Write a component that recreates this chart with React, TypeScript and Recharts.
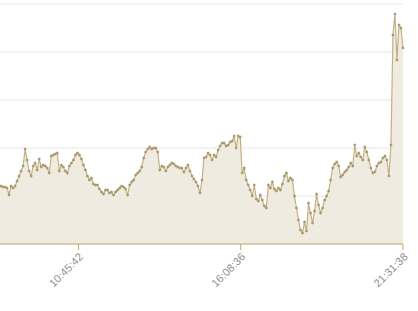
import React from 'react';
import { AreaChart, Area, XAxis, YAxis, CartesianGrid } from 'recharts';

// sample times: seconds since midnight
const START_SECONDS = 29258;
const STEP_SECONDS = 240;

const values: number[] = [
  58, 58, 57, 57, 56, 49, 58, 56, 58, 63, 68, 73, 78, 95, 84, 73, 68, 78, 81, 74,
  85, 77, 79, 78, 76, 71, 88, 89, 90, 91, 73, 79, 77, 73, 71, 78, 81, 84, 89, 91,
  89, 85, 79, 74, 68, 64, 66, 60, 59, 59, 55, 52, 50, 54, 54, 51, 52, 49, 52, 54,
  56, 58, 57, 55, 49, 59, 62, 64, 69, 71, 73, 77, 86, 92, 95, 97, 95, 96, 96, 92,
  74, 78, 77, 73, 77, 79, 81, 80, 78, 77, 76, 76, 72, 76, 79, 73, 68, 65, 62, 58,
  51, 64, 86, 87, 91, 89, 84, 89, 87, 94, 98, 101, 101, 98, 99, 102, 103, 108, 96, 108,
  107, 71, 76, 64, 59, 54, 48, 59, 45, 43, 49, 44, 38, 36, 59, 56, 62, 55, 53, 56,
  54, 60, 68, 71, 63, 66, 64, 48, 36, 24, 14, 11, 22, 13, 41, 31, 21, 33, 50, 39,
  31, 36, 44, 48, 53, 64, 76, 80, 82, 78, 67, 69, 72, 74, 77, 81, 78, 99, 88, 91,
  87, 84, 97, 92, 84, 76, 71, 72, 78, 81, 82, 86, 88, 84, 68, 99, 209, 230, 184, 219,
  216, 196,
];

const xTicks = [38742, 58116, 77498];
const yTicks = [0, 48, 96, 144, 192, 240];

const data = values.map((v, i) => ({ t: START_SECONDS + i * STEP_SECONDS, v }));

const pad = (n: number) => String(n).padStart(2, '0');
const fmtTime = (s: number) => {
  const h = Math.floor(s / 3600);
  const m = Math.floor((s % 3600) / 60);
  const sec = Math.floor(s % 60);
  return `${pad(h)}:${pad(m)}:${pad(sec)}`;
};

const AXIS = '#c9a66b';

export default function App() {
  return (
    <div style={{ position: 'absolute', left: 0, top: 0, width: 418, height: 311, overflow: 'hidden', background: '#fff' }}>
      <AreaChart width={418} height={311} data={data} margin={{ top: 4, right: 15, left: -1, bottom: 0 }}>
        <CartesianGrid vertical={false} stroke="#e6e6e6" strokeWidth={1} />
        <YAxis hide type="number" domain={[0, 240]} ticks={yTicks} />
        <XAxis
          dataKey="t"
          type="number"
          domain={['dataMin', 'dataMax']}
          ticks={xTicks}
          interval={0}
          tickFormatter={fmtTime}
          height={67}
          angle={-45}
          textAnchor="end"
          stroke={AXIS}
          tickLine={{ stroke: AXIS }}
          tickSize={6}
          tick={{ fill: '#8f8f8f', fontSize: 11, fontFamily: '"Liberation Sans", Arial, sans-serif' }}
        />
        <Area
          type="linear"
          dataKey="v"
          stroke="#c4b087"
          strokeWidth={1.2}
          fill="#f0ebe0"
          fillOpacity={1}
          baseValue={0}
          dot={{ r: 1.1, fill: '#a6966a', stroke: '#a6966a', strokeWidth: 0.6 }}
          activeDot={false}
          isAnimationActive={false}
        />
      </AreaChart>
    </div>
  );
}
